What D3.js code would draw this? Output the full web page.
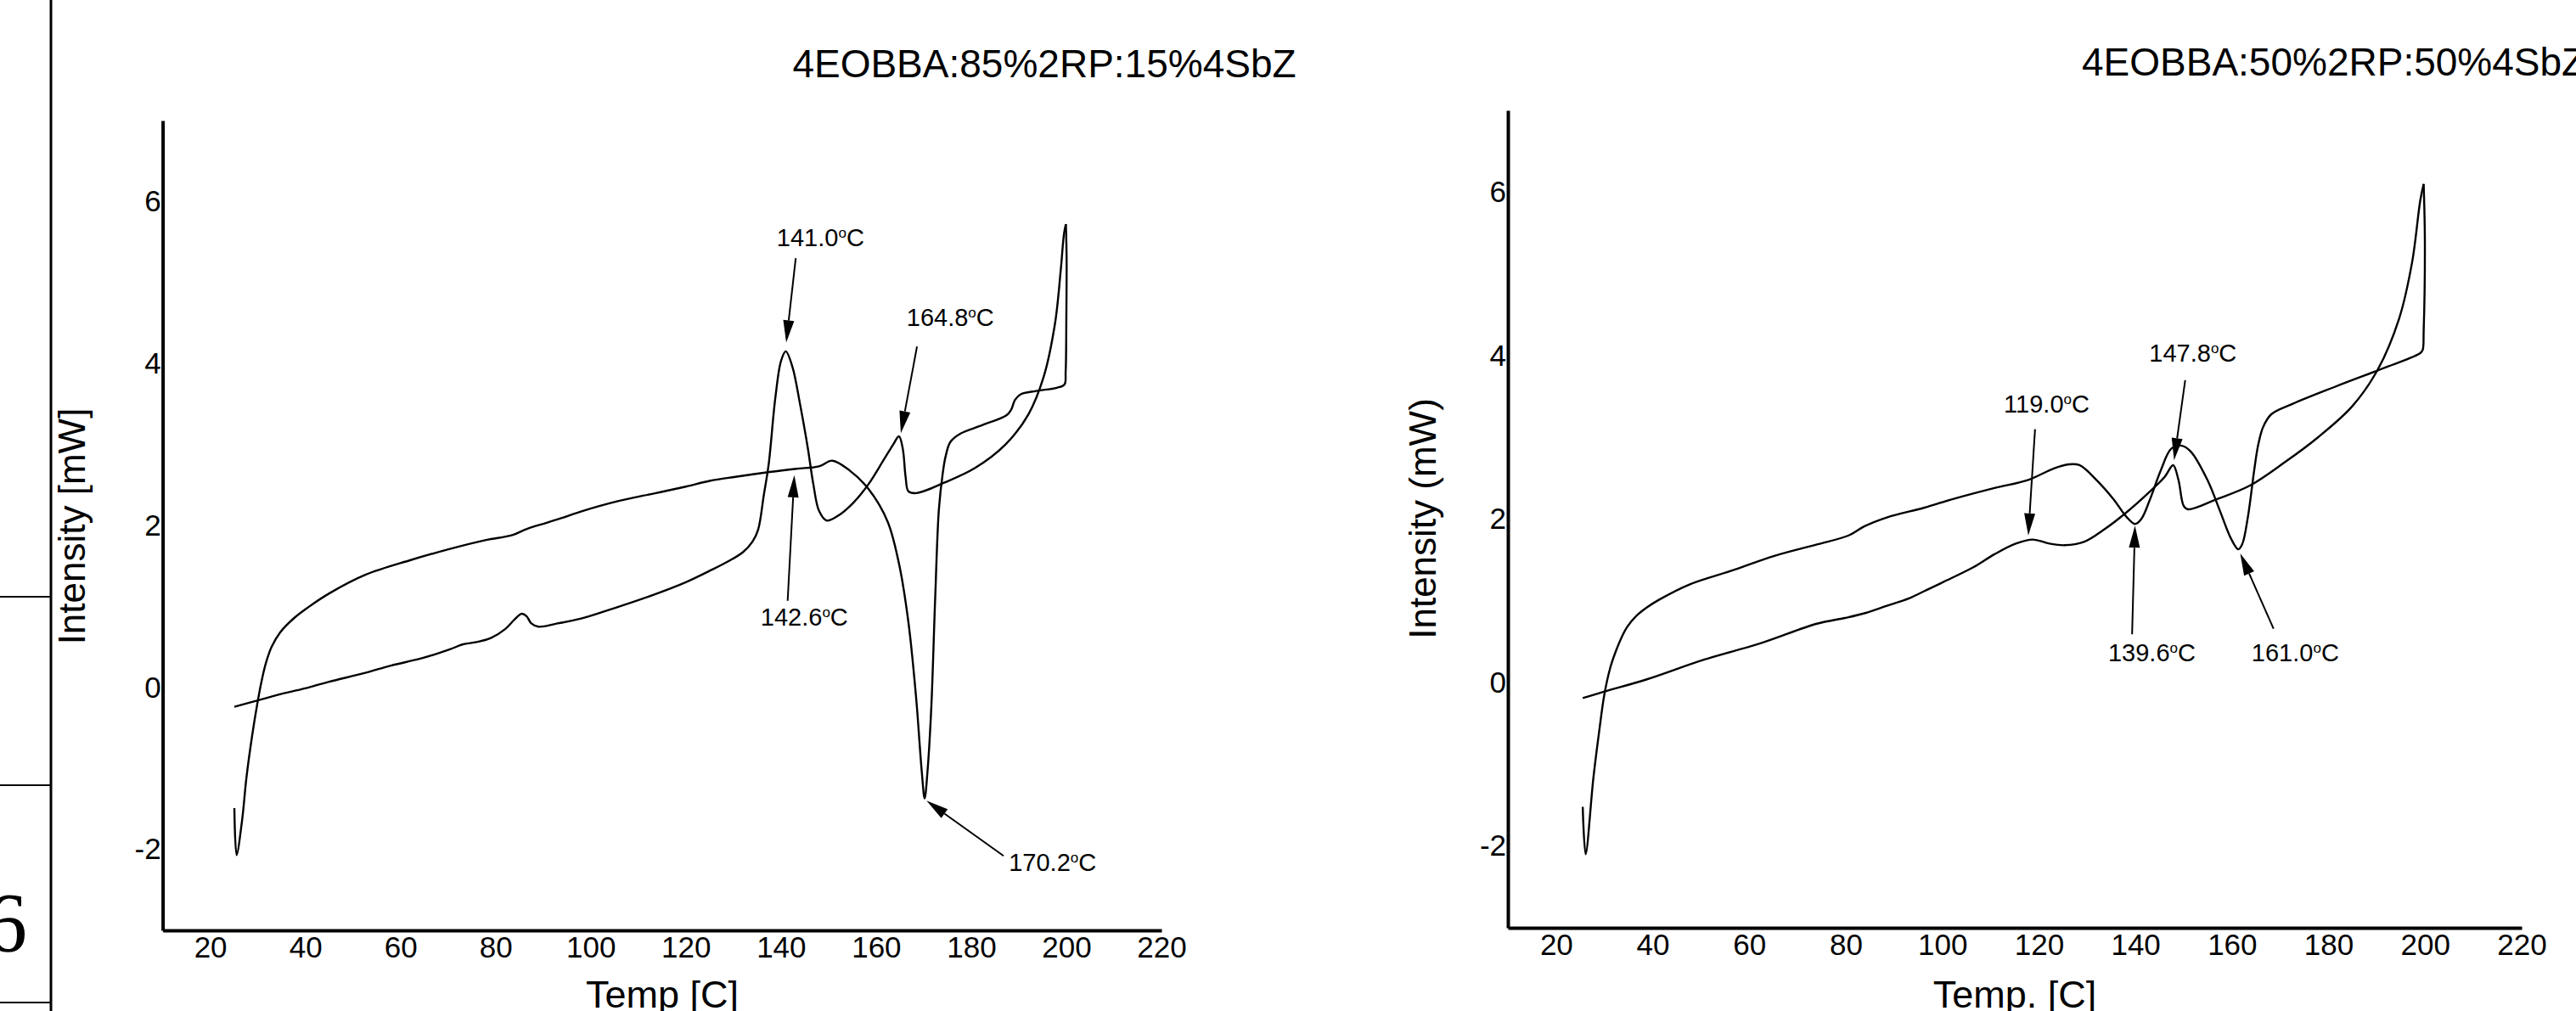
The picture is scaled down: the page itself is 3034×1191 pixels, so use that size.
<!DOCTYPE html>
<html>
<head>
<meta charset="utf-8">
<script src="https://cdn.jsdelivr.net/npm/d3@7"></script>
<style>
  body { margin: 0; background: #fff; }
  svg { display: block; }
  text { font-family: "Liberation Sans", Arial, sans-serif; fill: #000; }
</style>
</head>
<body>
<script>
// ---- data ----
var tempTicks = [20, 40, 60, 80, 100, 120, 140, 160, 180, 200, 220];
var powerTicks = [-2, 0, 2, 4, 6];

// 85/15 mixture, heating run
var heat1T = [25.07, 30, 35, 40.7, 45, 52.6, 58, 64.5, 70.4, 73, 76, 79, 82, 84, 85.5, 86.5, 87.5, 89, 93, 98, 105, 113, 120, 125, 129, 132, 134, 135.2, 136.4, 137.4, 138.8, 140, 141, 142.4, 144, 145.6, 146.8, 148, 149.6, 152, 155.2, 158.4, 161.6, 163.6, 164.8, 165.6, 166.2, 166.8, 168.5, 174.4, 180.8, 187.2, 192, 195.2, 197.6, 198.8, 199.5, 199.9];
var heat1Y = [-0.24, -0.16, -0.08, 0.0, 0.07, 0.18, 0.27, 0.36, 0.47, 0.53, 0.56, 0.61, 0.72, 0.84, 0.91, 0.88, 0.79, 0.75, 0.79, 0.85, 0.98, 1.14, 1.3, 1.44, 1.56, 1.67, 1.8, 1.95, 2.38, 2.75, 3.57, 4.03, 4.15, 3.96, 3.5, 2.97, 2.51, 2.18, 2.06, 2.12, 2.28, 2.51, 2.81, 3.0, 3.1, 2.95, 2.6, 2.42, 2.4, 2.53, 2.71, 3.0, 3.37, 3.83, 4.49, 5.14, 5.6, 5.72];
// 85/15 mixture, cooling run (temperature falling)
var cool1T = [199.9, 200.05, 200.0, 199.85, 199.6, 198, 193.6, 190.4, 189.2, 188.4, 187.4, 182.4, 177.6, 175.6, 174.6, 174, 173.2, 172.4, 171.6, 170.8, 170.2, 169.6, 168.4, 166.8, 164.8, 162.4, 158.4, 154.4, 150.8, 148, 143.2, 137.6, 130.4, 125, 120, 113.7, 105.7, 97.8, 93.8, 90.6, 86.7, 83.5, 78, 70.4, 62, 52.6, 45, 40.6, 37.7, 34.7, 32.9, 31.7, 30.8, 29.9, 28.8, 27.6, 26.7, 25.54, 25.07];
var cool1Y = [5.72, 5.3, 4.6, 3.9, 3.74, 3.7, 3.66, 3.62, 3.55, 3.43, 3.36, 3.24, 3.13, 3.03, 2.85, 2.64, 2.2, 1.07, -0.25, -1.04, -1.37, -1.04, -0.12, 0.8, 1.53, 2.05, 2.45, 2.68, 2.8, 2.73, 2.7, 2.66, 2.6, 2.55, 2.48, 2.4, 2.3, 2.17, 2.09, 2.03, 1.96, 1.88, 1.82, 1.71, 1.57, 1.39, 1.16, 0.99, 0.86, 0.68, 0.5, 0.3, 0.08, -0.2, -0.6, -1.12, -1.64, -2.07, -1.49];

// 50/50 mixture, heating run
var heat2T = [25.5, 30, 38.8, 50.6, 62.3, 74, 79.8, 84, 88.5, 93.1, 96.3, 100.2, 106.4, 110.8, 115.2, 118.7, 122.2, 125.3, 129.3, 133.7, 138.1, 142.5, 146.1, 147.8, 148.9, 150.0, 150.9, 156.7, 163.7, 170.8, 177.8, 184.9, 190.2, 194.6, 197.3, 199.0, 199.7];
var heat2Y = [-0.19, -0.11, 0.04, 0.28, 0.48, 0.72, 0.79, 0.85, 0.94, 1.03, 1.12, 1.23, 1.41, 1.57, 1.7, 1.75, 1.7, 1.68, 1.72, 1.88, 2.08, 2.31, 2.52, 2.66, 2.48, 2.16, 2.12, 2.24, 2.41, 2.69, 3.0, 3.38, 3.83, 4.45, 5.14, 5.9, 6.1];
// 50/50 mixture, cooling run
var cool2T = [199.7, 199.95, 199.7, 199.5, 199.0, 192.0, 181.4, 172.6, 168.1, 166.4, 165.4, 164.6, 163.3, 162.1, 161.3, 159.8, 157.5, 154.9, 151.4, 149.4, 147.4, 145.2, 143.0, 141.2, 139.9, 138.1, 135.5, 131.9, 128.4, 126.2, 123.1, 117.8, 110.8, 101.9, 96.3, 88.5, 83.8, 80.6, 74, 65.2, 56.4, 47.6, 41.2, 38.8, 36.5, 34.7, 33.6, 32.4, 31.2, 30, 28.9, 27.7, 26.1, 25.5];
var cool2Y = [6.1, 5.4, 4.3, 4.07, 4.03, 3.86, 3.62, 3.41, 3.28, 3.12, 2.9, 2.6, 2.03, 1.69, 1.63, 1.76, 2.1, 2.48, 2.83, 2.9, 2.86, 2.59, 2.24, 2.0, 1.94, 2.03, 2.24, 2.48, 2.66, 2.67, 2.62, 2.48, 2.38, 2.24, 2.14, 2.02, 1.91, 1.8, 1.69, 1.55, 1.37, 1.2, 1.01, 0.92, 0.81, 0.68, 0.56, 0.39, 0.18, -0.14, -0.6, -1.17, -2.1, -1.52];

// peak labels: text, label centre (T, mW), arrow tail and tip (T, mW)
var notes1Text = ["141.0", "164.8", "142.6", "170.2"];
var notes1Label = [[148.3, 5.5], [175.6, 4.52], [144.9, 0.82], [197.1, -2.21]];
var notes1From = [[143.1, 5.3], [168.6, 4.21], [141.4, 1.07], [186.8, -2.08]];
var notes1To = [[141.1, 4.26], [165.2, 3.14], [142.8, 2.62], [170.6, -1.40]];

var notes2Text = ["147.8", "119.0", "139.6", "161.0"];
var notes2Label = [[151.9, 3.98], [121.6, 3.36], [143.4, 0.31], [173.1, 0.31]];
var notes2From = [[150.3, 3.7], [119.2, 3.1], [139.3, 0.59], [168.6, 0.66]];
var notes2To = [[148.0, 2.72], [117.8, 1.8], [139.9, 1.92], [161.7, 1.58]];

var W = 3034, H = 1191;
var svg = d3.select("body").append("svg").attr("width", W).attr("height", H);

// page furniture at the left edge (table border of the source page)
svg.append("line").attr("x1", 60).attr("x2", 60).attr("y1", 0).attr("y2", H)
    .attr("stroke", "#000").attr("stroke-width", 3);
[703, 925, 1181].forEach(function (yy) {
    svg.append("line").attr("x1", 0).attr("x2", 60).attr("y1", yy).attr("y2", yy)
        .attr("stroke", "#000").attr("stroke-width", 2);
});
svg.append("text").attr("x", -18).attr("y", 1120)
    .style("font-family", "'Liberation Serif', serif").style("font-size", "100px").text("6");

var panels = [
    {x0: 191.6, x1: 1368, yTop: 142, yBot: 1096,
     title: "4EOBBA:85%2RP:15%4SbZ", titleX: 1230, titleY: 91, titleAnchor: "middle",
     ylab: "Intensity [mW]", ylabX: 100, ylabY: 620,
     xlab: "Temp [C]", xlabX: 780,
     heatT: heat1T, heatY: heat1Y, coolT: cool1T, coolY: cool1Y,
     nText: notes1Text, nLabel: notes1Label, nFrom: notes1From, nTo: notes1To},
    {x0: 1776, x1: 2970, yTop: 130, yBot: 1093,
     title: "4EOBBA:50%2RP:50%4SbZ", titleX: 2452, titleY: 89, titleAnchor: "start",
     ylab: "Intensity (mW)", ylabX: 1691, ylabY: 611,
     xlab: "Temp. [C]", xlabX: 2373,
     heatT: heat2T, heatY: heat2Y, coolT: cool2T, coolY: cool2Y,
     nText: notes2Text, nLabel: notes2Label, nFrom: notes2From, nTo: notes2To}
];

panels.forEach(function (p) {
    var x = d3.scaleLinear().domain([10, 220]).range([p.x0, p.x1]);
    var y = d3.scaleLinear().domain([-3, 7]).range([p.yBot, p.yTop]);
    var g = svg.append("g");

    var plain = function (d) { return String(d); };  // hyphen minus, as in the original
    var xAxis = g.append("g").attr("transform", "translate(0," + p.yBot + ")")
        .call(d3.axisBottom(x).tickValues(tempTicks).tickFormat(plain).tickSize(0).tickPadding(7));
    var yAxis = g.append("g").attr("transform", "translate(" + p.x0 + ",0)")
        .call(d3.axisLeft(y).tickValues(powerTicks).tickFormat(plain).tickSize(0).tickPadding(2));
    [xAxis, yAxis].forEach(function (a) {
        a.select(".domain").attr("stroke", "#000").attr("stroke-width", 4);
        a.selectAll("text").style("font-size", "35px").attr("fill", "#000")
            .style("font-family", "'Liberation Sans', Arial, sans-serif");
    });

    var line = d3.line()
        .x(function (d) { return x(d[0]); })
        .y(function (d) { return y(d[1]); })
        .curve(d3.curveCatmullRom.alpha(0.5));

    [[p.heatT, p.heatY], [p.coolT, p.coolY]].forEach(function (s) {
        g.append("path")
            .datum(d3.zip(s[0], s[1]))
            .attr("d", line)
            .attr("fill", "none").attr("stroke", "#000").attr("stroke-width", 2.4);
    });

    // peak annotations
    p.nText.forEach(function (t, i) {
        var fx = x(p.nFrom[i][0]), fy = y(p.nFrom[i][1]);
        var tx = x(p.nTo[i][0]), ty = y(p.nTo[i][1]);
        var dx = tx - fx, dy = ty - fy, len = Math.sqrt(dx * dx + dy * dy);
        var ux = dx / len, uy = dy / len, head = 26, hw = 6.5;
        var bx = tx - ux * head, by = ty - uy * head;
        g.append("line").attr("x1", fx).attr("y1", fy).attr("x2", bx).attr("y2", by)
            .attr("stroke", "#000").attr("stroke-width", 2);
        g.append("path")
            .attr("d", "M" + tx + "," + ty +
                "L" + (bx - uy * hw) + "," + (by + ux * hw) +
                "L" + (bx + uy * hw) + "," + (by - ux * hw) + "Z")
            .attr("fill", "#000");

        var lab = g.append("text")
            .attr("x", x(p.nLabel[i][0])).attr("y", y(p.nLabel[i][1]) + 5)
            .attr("text-anchor", "middle")
            .style("font-size", "29px");
        lab.append("tspan").text(t);
        lab.append("tspan").attr("dy", -10).style("font-size", "17px").text("o");
        lab.append("tspan").attr("dy", 10).text("C");
    });

    svg.append("text").attr("x", p.titleX).attr("y", p.titleY)
        .attr("text-anchor", p.titleAnchor).style("font-size", "46px").text(p.title);
    svg.append("text")
        .attr("transform", "translate(" + p.ylabX + "," + p.ylabY + ") rotate(-90)")
        .attr("text-anchor", "middle").style("font-size", "44px").text(p.ylab);
    svg.append("text").attr("x", p.xlabX).attr("y", 1187)
        .attr("text-anchor", "middle").style("font-size", "45px").text(p.xlab);
});
</script>
</body>
</html>
